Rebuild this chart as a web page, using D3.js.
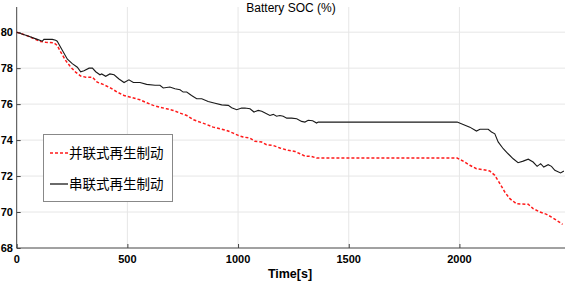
<!DOCTYPE html>
<html>
<head>
<meta charset="utf-8">
<script src="https://cdn.jsdelivr.net/npm/d3@7"></script>
<style>
  body { margin: 0; background: #fff; }
  svg { display: block; }
</style>
</head>
<body>
<div id="svg-holder"></div>
<script>
// time [s] and SOC [%]
let tSeries = [0, 48, 93, 116, 123, 161, 176, 183, 206, 229, 251, 274, 289, 304, 327, 342, 357, 376, 384,
    402, 421, 440, 462, 485, 507, 527, 557, 587, 625, 647, 662, 692, 715, 738, 752, 768, 790, 813, 836,
    865, 896, 926, 956, 971, 994, 1016, 1031, 1054, 1072, 1091, 1107, 1129, 1144, 1159, 1174, 1189, 1204,
    1220, 1242, 1265, 1287, 1302, 1317, 1337, 1355, 1362, 1990, 2017, 2047, 2077, 2093, 2130, 2145, 2160,
    2175, 2198, 2220, 2243, 2265, 2288, 2311, 2333, 2351, 2367, 2381, 2401, 2416, 2431, 2457, 2472]
let socSeries = [80.0, 79.8, 79.6, 79.5, 79.6, 79.6, 79.55, 79.5, 79.0, 78.5, 78.25, 78.05, 77.8, 77.85, 78.0,
    78.0, 77.8, 77.63, 77.68, 77.55, 77.68, 77.63, 77.4, 77.2, 77.35, 77.2, 77.2, 77.1, 77.05, 77.05, 76.9,
    76.95, 76.85, 76.8, 76.67, 76.67, 76.48, 76.3, 76.3, 76.15, 76.05, 75.96, 75.93, 75.8, 75.69, 75.78,
    75.78, 75.74, 75.56, 75.65, 75.6, 75.47, 75.37, 75.43, 75.33, 75.37, 75.33, 75.22, 75.22, 75.19, 75.04,
    75.0, 75.1, 75.08, 74.95, 75.0, 75.0, 74.87, 74.72, 74.5, 74.6, 74.6, 74.45, 74.35, 73.9, 73.52, 73.24,
    72.96, 72.74, 72.83, 72.94, 72.78, 72.54, 72.69, 72.5, 72.63, 72.54, 72.32, 72.17, 72.28]

let tParallel = [0, 48, 108, 131, 168, 183, 199, 221, 244, 266, 289, 312, 342, 364, 394, 425, 454, 485, 522,
    557, 587, 617, 647, 677, 707, 738, 768, 798, 828, 858, 888, 918, 948, 978, 1001, 1023, 1054, 1076, 1107,
    1129, 1159, 1189, 1227, 1257, 1280, 1302, 1332, 1355, 1990, 2017, 2047, 2077, 2107, 2137, 2160, 2183,
    2205, 2228, 2258, 2311, 2333, 2364, 2394, 2416, 2439, 2466]
let socParallel = [80.0, 79.8, 79.48, 79.44, 79.41, 79.26, 78.89, 78.43, 78.06, 77.78, 77.56, 77.5, 77.5, 77.22,
    77.08, 76.89, 76.67, 76.48, 76.36, 76.24, 76.08, 75.93, 75.83, 75.74, 75.65, 75.5, 75.37, 75.13, 75.0,
    74.87, 74.72, 74.63, 74.54, 74.39, 74.26, 74.17, 74.11, 73.93, 73.89, 73.74, 73.7, 73.56, 73.43, 73.37,
    73.24, 73.11, 73.09, 73.0, 73.0, 72.83, 72.6, 72.41, 72.36, 72.28, 72.04, 71.58, 71.11, 70.74, 70.46,
    70.43, 70.19, 70.0, 69.87, 69.72, 69.54, 69.32]

let xTicks = [0, 500, 1000, 1500, 2000]
let yTicks = [68, 70, 72, 74, 76, 78, 80]
let legendLabels = ["并联式再生制动", "串联式再生制动"]

let width = 567,
    height = 283

let svg = d3.select("#svg-holder").append('svg')
    .attr("width", width)
    .attr("height", height)

let x = d3.scaleLinear()
    .domain([0, 2477])
    .range([16.7, 565])

let y = d3.scaleLinear()
    .domain([68, 81.4])
    .range([248, 7])

// grid
svg.append('g')
    .selectAll('line')
    .data(xTicks.slice(1))
    .enter()
    .append('line')
        .attr('x1', d => x(d))
        .attr('x2', d => x(d))
        .attr('y1', y(68))
        .attr('y2', y(81.4))
        .attr('stroke', '#e6e6e6')

svg.append('g')
    .selectAll('line')
    .data(yTicks.slice(1))
    .enter()
    .append('line')
        .attr('x1', x(0))
        .attr('x2', x(2477))
        .attr('y1', d => y(d))
        .attr('y2', d => y(d))
        .attr('stroke', '#e6e6e6')

// axes, ticks pointing inward
let xAxis = svg.append('g')
    .attr('transform', `translate(0, ${y(68)})`)
    .call(d3.axisTop(x).tickValues(xTicks).tickSize(4).tickFormat(''))
xAxis.select('.domain').remove()
xAxis.append('line')
    .attr('x1', x(0)).attr('x2', x(2477))
    .attr('stroke', '#444')

let yAxis = svg.append('g')
    .attr('transform', `translate(${x(0)}, 0)`)
    .call(d3.axisRight(y).tickValues(yTicks).tickSize(4).tickFormat(''))
yAxis.select('.domain').remove()
yAxis.append('line')
    .attr('y1', y(68)).attr('y2', y(81.4))
    .attr('stroke', '#444')
svg.selectAll('.tick line').attr('stroke', '#444')

// tick labels
svg.append('g')
    .selectAll('text')
    .data(xTicks)
    .enter()
    .append('text')
        .attr('x', d => x(d))
        .attr('y', 263)
        .attr('text-anchor', 'middle')
        .style('font', 'bold 11px "Liberation Sans", Arial, sans-serif')
        .text(d => d)

svg.append('g')
    .selectAll('text')
    .data(yTicks)
    .enter()
    .append('text')
        .attr('x', 13)
        .attr('y', d => y(d) + 4)
        .attr('text-anchor', 'end')
        .style('font', 'bold 11px "Liberation Sans", Arial, sans-serif')
        .text(d => d)

// title and x label
svg.append('text')
    .attr('x', 291)
    .attr('y', 12)
    .attr('text-anchor', 'middle')
    .style('font', '12px "Liberation Sans", Arial, sans-serif')
    .text('Battery SOC (%)')

svg.append('text')
    .attr('x', 290)
    .attr('y', 278)
    .attr('text-anchor', 'middle')
    .style('font', 'bold 12.5px "Liberation Sans", Arial, sans-serif')
    .text('Time[s]')

// curves
let line = d3.line()
    .x(d => x(d[0]))
    .y(d => y(d[1]))

svg.append('path')
    .datum(d3.zip(tParallel, socParallel))
    .attr('d', line)
    .attr('fill', 'none')
    .attr('stroke', '#ff1a1a')
    .attr('stroke-width', 1.5)
    .attr('stroke-dasharray', '3,2')

svg.append('path')
    .datum(d3.zip(tSeries, socSeries))
    .attr('d', line)
    .attr('fill', 'none')
    .attr('stroke', '#1a1a1a')
    .attr('stroke-width', 1.1)

// legend
let legend = svg.append('g')
legend.append('rect')
    .attr('x', 43.5)
    .attr('y', 134.5)
    .attr('width', 129)
    .attr('height', 67)
    .attr('fill', '#fff')
    .attr('stroke', '#888')

let legendStyles = [
    {color: '#ff1a1a', dash: '3,2', w: 1.5},
    {color: '#1a1a1a', dash: null, w: 1.3}
]
legendLabels.forEach((label, i) => {
    let ly = 153 + i * 31
    legend.append('line')
        .attr('x1', 50)
        .attr('x2', 68)
        .attr('y1', ly)
        .attr('y2', ly)
        .attr('stroke', legendStyles[i].color)
        .attr('stroke-width', legendStyles[i].w)
        .attr('stroke-dasharray', legendStyles[i].dash)
    legend.append('text')
        .attr('x', 69)
        .attr('y', ly + 5)
        .style('font', '13.5px "Noto Sans CJK SC", sans-serif')
        .text(label)
})
</script>
</body>
</html>
